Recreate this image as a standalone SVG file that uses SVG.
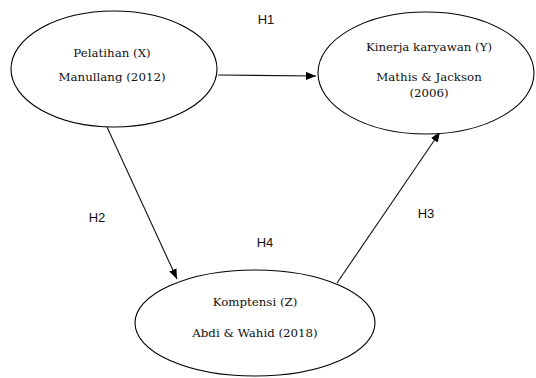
<svg xmlns="http://www.w3.org/2000/svg" width="536" height="378" viewBox="0 0 536 378">
<style>
.node{fill:#fff;stroke:#000;stroke-width:1.1}
.t{font-family:"DejaVu Serif","Liberation Serif",serif;font-size:11.8px;fill:#111;text-anchor:middle}
.h{font-family:"Liberation Sans",Arial,sans-serif;font-size:13px;fill:#111;text-anchor:middle}
.c{stroke:#111;stroke-width:1.1;fill:none;marker-end:url(#ah)}
</style>
<defs>
<marker id="ah" viewBox="0 0 10 8" refX="10" refY="4" markerWidth="10" markerHeight="8" markerUnits="userSpaceOnUse" orient="auto">
<path d="M0,0 L10,4 L0,8 Z" fill="#000"/>
</marker>
</defs>
<g id="connectors">
<line class="c" x1="218" y1="75" x2="316" y2="76"/>
<line class="c" x1="107" y1="127" x2="177" y2="279"/>
<line class="c" x1="337" y1="283" x2="440" y2="132"/>
</g>
<g id="node-x">
<ellipse class="node" cx="114" cy="69" rx="103" ry="58"/>
<text class="t" x="112" y="57">Pelatihan (X)</text>
<text class="t" x="112" y="81">Manullang (2012)</text>
</g>
<g id="node-y">
<ellipse class="node" cx="426" cy="73" rx="108" ry="61"/>
<text class="t" x="429" y="51">Kinerja karyawan (Y)</text>
<text class="t" x="429" y="81">Mathis &amp; Jackson</text>
<text class="t" x="429" y="97">(2006)</text>
</g>
<g id="node-z">
<ellipse class="node" cx="255" cy="323" rx="120" ry="53"/>
<text class="t" x="255" y="306">Komptensi (Z)</text>
<text class="t" x="255" y="337">Abdi &amp; Wahid (2018)</text>
</g>
<g id="labels">
<text class="h" x="266" y="24">H1</text>
<text class="h" x="97" y="222">H2</text>
<text class="h" x="426" y="218">H3</text>
<text class="h" x="265" y="247">H4</text>
</g>
</svg>
